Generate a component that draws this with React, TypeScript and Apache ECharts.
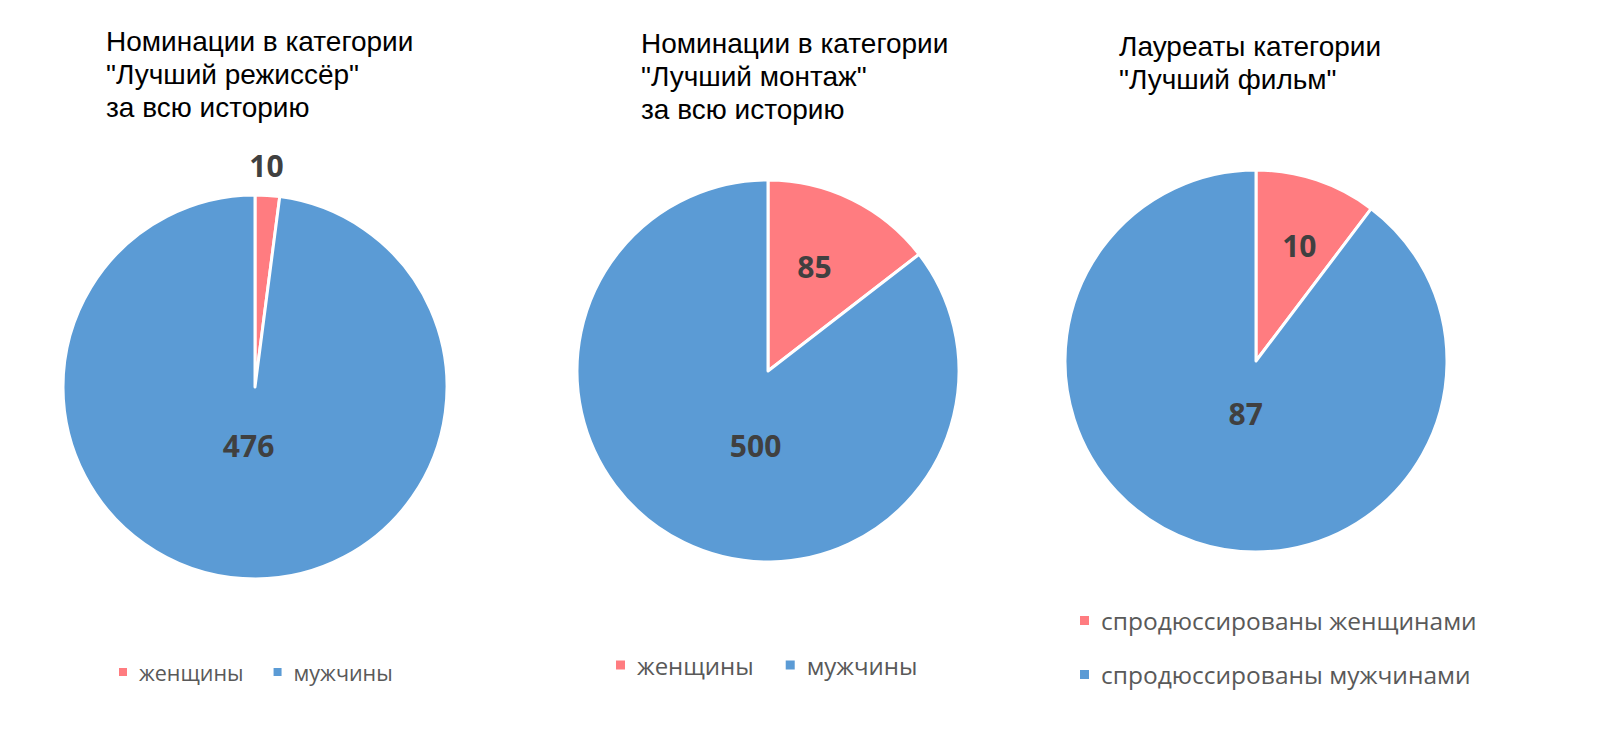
import React, { useEffect, useRef } from "react";
import * as echarts from "echarts";

// Data
const directorCategories = ["женщины", "мужчины"];
const directorValues = [10, 476];
const editingCategories = ["женщины", "мужчины"];
const editingValues = [85, 500];
const pictureCategories = ["спродюссированы женщинами", "спродюссированы мужчинами"];
const pictureValues = [10, 87];

const directorTitle = ["Номинации в категории", "\"Лучший режиссёр\"", "за всю историю"];
const editingTitle = ["Номинации в категории", "\"Лучший монтаж\"", "за всю историю"];
const pictureTitle = ["Лауреаты категории", "\"Лучший фильм\""];

const PINK = "#FF7C80";
const BLUE = "#5B9BD5";

// label nudges (relative to the default "inside" spot), by data index
const directorNudge = [
  [5, -123],
  [0, -40],
];
const editingNudge = [
  [3, -16],
  [31, -14],
];
const pictureNudge = [
  [12, -22],
  [21, -41],
];

const titleStyle = {
  fontFamily: "Liberation Sans, Arial, sans-serif",
  fontSize: 28,
  fontWeight: "normal" as const,
  color: "#000",
  lineHeight: 33,
};

const legendText = (size: number) => ({
  fontFamily: "Open Sans, sans-serif",
  fontSize: size,
  color: "#595959",
  lineHeight: 24,
  padding: [0, 0, 0, 6],
});

function pieSeries(
  names: string[],
  values: number[],
  center: [number, number],
  radius: number,
  nudge: number[][]
) {
  return {
    type: "pie",
    center,
    radius,
    startAngle: 90,
    clockwise: true,
    avoidLabelOverlap: false,
    data: names.map((n, i) => ({
      name: n,
      value: values[i],
      itemStyle: { color: i === 0 ? PINK : BLUE },
    })),
    itemStyle: { borderColor: "#fff", borderWidth: 3 },
    label: {
      show: true,
      position: "inside",
      formatter: "{c}",
      fontFamily: "Open Sans, sans-serif",
      fontWeight: "bold",
      fontSize: 30,
      color: "#404040",
    },
    labelLine: { show: false },
    labelLayout: (p: any) => ({ dx: nudge[p.dataIndex][0], dy: nudge[p.dataIndex][1] }),
    emphasis: { disabled: true },
  };
}

export default function App() {
  const ref = useRef<HTMLDivElement>(null);

  useEffect(() => {
    document.body.style.margin = "0";
    if (!ref.current) return;
    const chart = echarts.init(ref.current, undefined, { renderer: "svg" });
    chart.setOption({
      animation: false,
      backgroundColor: "#fff",
      title: [
        { text: directorTitle.join("\n"), left: 101, top: 20, textStyle: titleStyle },
        { text: editingTitle.join("\n"), left: 636, top: 22, textStyle: titleStyle },
        { text: pictureTitle.join("\n"), left: 1114, top: 25, textStyle: titleStyle },
      ],
      legend: [
        {
          data: directorCategories,
          left: 112,
          top: 655,
          icon: "rect",
          itemWidth: 10,
          itemHeight: 10,
          itemGap: 28,
          selectedMode: false,
          textStyle: legendText(21.5),
        },
        {
          data: editingCategories,
          left: 609,
          top: 648,
          icon: "rect",
          itemWidth: 11,
          itemHeight: 11,
          itemGap: 30,
          selectedMode: false,
          textStyle: legendText(24),
        },
        {
          data: pictureCategories,
          orient: "vertical",
          left: 1073,
          top: 603,
          icon: "rect",
          itemWidth: 11,
          itemHeight: 11,
          itemGap: 29,
          selectedMode: false,
          textStyle: legendText(24.5),
        },
      ],
      series: [
        pieSeries(directorCategories, directorValues, [255, 387], 192, directorNudge),
        pieSeries(editingCategories, editingValues, [768, 371], 191, editingNudge),
        pieSeries(pictureCategories, pictureValues, [1256, 361], 191, pictureNudge),
      ],
    });
    return () => chart.dispose();
  }, []);

  return <div ref={ref} style={{ width: 1600, height: 747 }} />;
}
